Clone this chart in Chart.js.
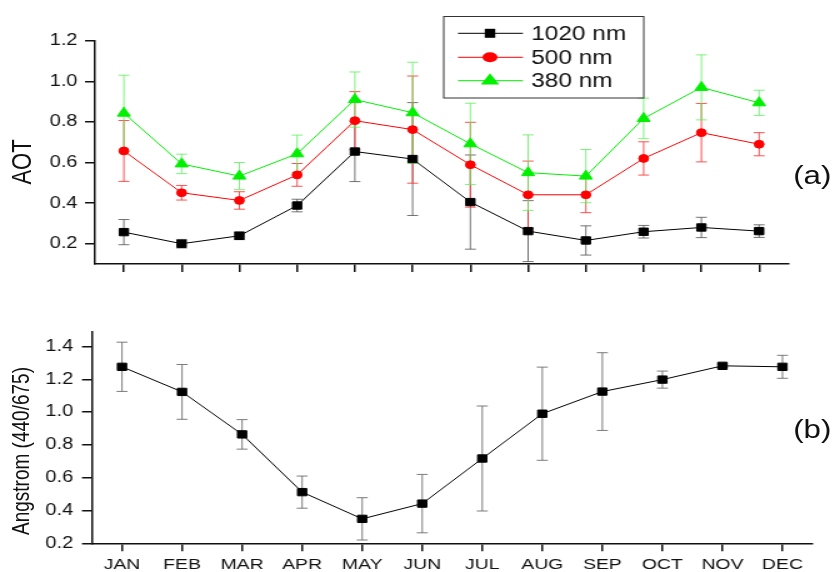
<!DOCTYPE html>
<html>
<head>
<meta charset="utf-8">
<script src="https://cdn.jsdelivr.net/npm/chart.js@4.4.1/dist/chart.umd.min.js"></script>
<style>
  html, body { margin:0; padding:0; background:#fff; overflow:hidden; }
  #wrap { position:absolute; left:0; top:0; width:668px; height:572px; transform:scaleX(1.25); transform-origin:0 0; font-family:"Liberation Sans", Arial, sans-serif; color:#111; }
  canvas { position:absolute; left:0; }
  .vt { position:absolute; transform:translate(-50%,-50%) rotate(-90deg); white-space:nowrap; line-height:1; }
  .lab { position:absolute; transform:translateY(-50%); white-space:nowrap; line-height:1; font-size:25px; }
</style>
</head>
<body>
<div id="wrap">
  <canvas id="c1" width="668" height="300" style="top:0"></canvas>
  <canvas id="c2" width="668" height="272" style="top:300px"></canvas>
  <div class="vt" style="left:18.2px; top:162px; font-size:22px;">AOT</div>
  <div class="vt" style="left:16.8px; top:451px; font-size:19px;">Angstrom (440/675)</div>
  <div class="lab" style="left:634.5px; top:174.5px;">(a)</div>
  <div class="lab" style="left:634.5px; top:428.5px;">(b)</div>
</div>
<script>
// ---- data ----
const months = ['JAN','FEB','MAR','APR','MAY','JUN','JUL','AUG','SEP','OCT','NOV','DEC'];
const aot1020 = [0.257, 0.200, 0.239, 0.388, 0.654, 0.617, 0.405, 0.262, 0.216, 0.259, 0.280, 0.262];
const err1020 = [0.062, 0.021, 0.019, 0.031, 0.148, 0.278, 0.232, 0.150, 0.072, 0.031, 0.050, 0.031];
const aot500  = [0.657, 0.451, 0.413, 0.539, 0.806, 0.762, 0.589, 0.441, 0.441, 0.620, 0.747, 0.690];
const err500  = [0.150, 0.036, 0.043, 0.056, 0.143, 0.264, 0.209, 0.166, 0.088, 0.082, 0.144, 0.057];
const aot380  = [0.843, 0.593, 0.533, 0.643, 0.910, 0.845, 0.692, 0.550, 0.533, 0.817, 0.970, 0.894];
const err380  = [0.187, 0.048, 0.067, 0.092, 0.136, 0.249, 0.200, 0.186, 0.131, 0.100, 0.160, 0.062];
const angstrom = [1.276, 1.123, 0.864, 0.512, 0.349, 0.442, 0.717, 0.990, 1.125, 1.198, 1.282, 1.276];
const angErr   = [0.150, 0.167, 0.090, 0.098, 0.129, 0.178, 0.320, 0.284, 0.237, 0.052, 0.010, 0.070];
const ticksA = [0.2, 0.4, 0.6, 0.8, 1.0, 1.2];
const ticksB = [0.2, 0.4, 0.6, 0.8, 1.0, 1.2, 1.4];
const legendLabels = ['1020 nm', '500 nm', '380 nm'];

const FONT = '"Liberation Sans", Arial, sans-serif';
const AX = '#111';

const errPlugin = {
  id: 'errbars',
  beforeDatasetsDraw(chart) {
    const {ctx, scales: {x, y}} = chart;
    chart.data.datasets.forEach(ds => {
      if (!ds.errors) return;
      ctx.save();
      ctx.strokeStyle = ds.errColor;
      ctx.lineWidth = 1;
      ds.data.forEach((v, j) => {
        const e = ds.errors[j];
        const px = x.getPixelForValue(j);
        const pt = y.getPixelForValue(v + e);
        const pb = y.getPixelForValue(v - e);
        const c = 4.4;
        ctx.beginPath();
        ctx.moveTo(px, pt); ctx.lineTo(px, pb);
        ctx.moveTo(px - c, pt); ctx.lineTo(px + c, pt);
        ctx.moveTo(px - c, pb); ctx.lineTo(px + c, pb);
        ctx.stroke();
      });
      ctx.restore();
    });
  }
};

function drawMarker(ctx, style, x, y, color) {
  ctx.fillStyle = color;
  ctx.beginPath();
  if (style === 'rect') {
    ctx.rect(x - 4.2, y - 4.5, 8.4, 9);
  } else if (style === 'circle') {
    ctx.ellipse(x, y, 6, 5, 0, 0, Math.PI * 2);
  } else {
    const r = 7.5;
    ctx.moveTo(x, y - r);
    ctx.lineTo(x + 0.98 * r, y + 0.5 * r);
    ctx.lineTo(x - 0.98 * r, y + 0.5 * r);
    ctx.closePath();
  }
  ctx.fill();
}

const legendPlugin = {
  id: 'customLegend',
  afterDraw(chart) {
    const ctx = chart.ctx;
    ctx.save();
    ctx.strokeStyle = '#333';
    ctx.lineWidth = 1;
    ctx.strokeRect(355, 16.5, 160, 81.5);
    const rows = [33.3, 57.3, 80.7];
    chart.data.datasets.forEach((ds, i) => {
      const yy = rows[i];
      ctx.strokeStyle = ds.borderColor;
      ctx.lineWidth = 1;
      ctx.beginPath();
      ctx.moveTo(366.4, yy); ctx.lineTo(418.4, yy);
      ctx.stroke();
      drawMarker(ctx, ds.pointStyle, 392, yy, ds.pointBackgroundColor);
      ctx.fillStyle = '#111';
      ctx.font = '19.5px ' + FONT;
      ctx.textBaseline = 'middle';
      ctx.textAlign = 'left';
      ctx.fillText(legendLabels[i], 425, yy + 1);
    });
    ctx.restore();
  }
};

function ds(label, data, errors, color, errColor, style, radius) {
  return {
    label, data, errors, errColor,
    borderColor: color, backgroundColor: color,
    borderWidth: 1,
    pointStyle: style, pointRadius: radius, pointHoverRadius: radius,
    pointBackgroundColor: color, pointBorderColor: color, pointBorderWidth: 1,
    tension: 0, fill: false
  };
}

const axisCommon = {
  grid: { drawOnChartArea: false, drawTicks: true, tickLength: 8, color: AX, lineWidth: 1.5 },
  border: { display: true, color: AX, width: 1.5 }
};

new Chart(document.getElementById('c1'), {
  type: 'line',
  data: {
    labels: months,
    datasets: [
      ds('1020 nm', aot1020, err1020, '#000000', 'rgba(90,90,90,0.85)', 'rect', 5.2),
      ds('500 nm', aot500, err500, '#ff0000', 'rgba(255,50,50,0.85)', 'circle', 3.9),
      ds('380 nm', aot380, err380, '#00f000', 'rgba(90,240,90,0.8)', 'triangle', 6)
    ]
  },
  options: {
    responsive: false, animation: false, devicePixelRatio: 1,
    layout: { padding: { left: 0, right: 37.6, top: 40.7, bottom: 0 } },
    plugins: { legend: { display: false }, tooltip: { enabled: false } },
    scales: {
      x: {
        type: 'category', offset: true,
        grid: Object.assign({}, axisCommon.grid, { offset: false }),
        border: axisCommon.border,
        ticks: { display: false },
        afterFit(a) { a.height = 36; }
      },
      y: {
        min: 0.1, max: 1.2,
        grid: axisCommon.grid, border: axisCommon.border,
        afterBuildTicks(a) { a.ticks = ticksA.map(v => ({ value: v })); },
        ticks: { callback: v => Number(v).toFixed(1), font: { family: FONT, size: 16 }, color: '#111', padding: 6 },
        afterFit(a) { a.width = 76; }
      }
    }
  },
  plugins: [errPlugin, legendPlugin]
});

new Chart(document.getElementById('c2'), {
  type: 'line',
  data: {
    labels: months,
    datasets: [
      ds('Angstrom', angstrom, angErr, '#000000', 'rgba(110,110,110,0.9)', 'rect', 5.2)
    ]
  },
  options: {
    responsive: false, animation: false, devicePixelRatio: 1,
    layout: { padding: { left: 0, right: 18, top: 31.7, bottom: 0 } },
    plugins: { legend: { display: false }, tooltip: { enabled: false } },
    scales: {
      x: {
        type: 'category', offset: true,
        grid: Object.assign({}, axisCommon.grid, { offset: false }),
        border: axisCommon.border,
        ticks: { font: { family: FONT, size: 15.5 }, color: '#111', padding: 4, maxRotation: 0, autoSkip: false },
        afterFit(a) { a.height = 28.7; }
      },
      y: {
        min: 0.2, max: 1.49,
        grid: axisCommon.grid, border: axisCommon.border,
        afterBuildTicks(a) { a.ticks = ticksB.map(v => ({ value: v })); },
        ticks: { callback: v => Number(v).toFixed(1), font: { family: FONT, size: 16 }, color: '#111', padding: 7 },
        afterFit(a) { a.width = 73.6; }
      }
    }
  },
  plugins: [errPlugin]
});
</script>
</body>
</html>
